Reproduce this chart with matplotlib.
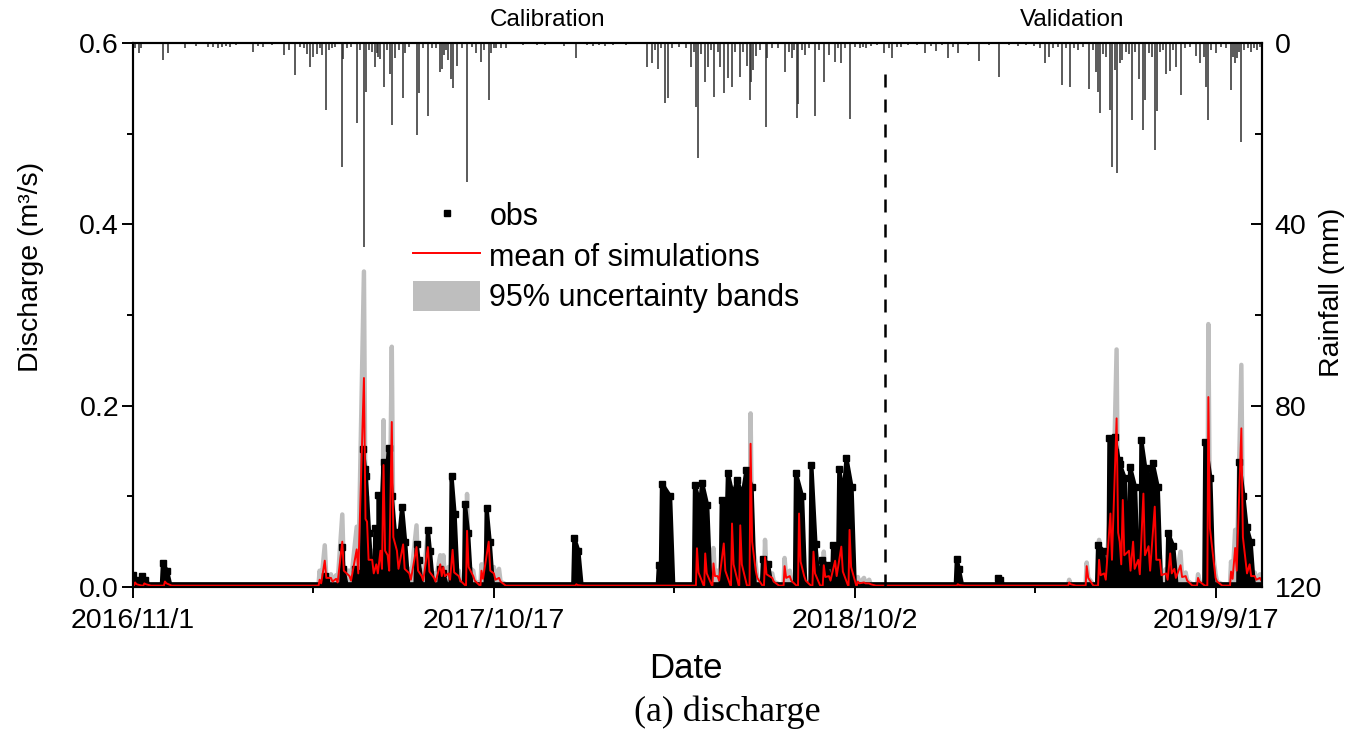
import numpy as np
import matplotlib.pyplot as plt
from matplotlib.lines import Line2D
from matplotlib.patches import Patch

plt.rcParams['font.family'] = ['Liberation Sans', 'DejaVu Sans']

# days counted from 2016/11/1
tick_days = [0, 350, 700, 1050]
tick_labels = ['2016/11/1', '2017/10/17', '2018/10/2', '2019/9/17']
split_day = 729.5

# observed events: start day, end day, top value, value at end (m3/s)
obs_start = [0, 9, 29, 186, 203, 215, 223, 226, 235, 238, 243, 248, 254, 261, 275, 286, 298, 309, 322, 343, 428,
             510, 513, 545, 552, 571, 577, 586, 595, 611, 643, 658, 668, 679, 685, 692,
             799, 839, 936, 947, 952, 957, 967, 978, 983, 989, 1004, 1040, 1073, 1080]
obs_end = [3, 12, 33, 187, 204, 217, 225, 229, 238, 241, 244, 251, 257, 264, 277, 288, 301, 312, 325, 346, 432,
           512, 521, 550, 557, 576, 582, 591, 600, 616, 649, 662, 673, 684, 689, 697,
           801, 841, 941, 952, 956, 962, 972, 982, 986, 994, 1009, 1045, 1077, 1084]
obs_top = [0.013, 0.0125, 0.026, 0.0125, 0.044, 0.02, 0.152, 0.122, 0.065, 0.1015, 0.138, 0.153, 0.061, 0.088,
           0.047, 0.063, 0.02, 0.122, 0.0915, 0.0868, 0.0537,
           0.024, 0.114, 0.1125, 0.115, 0.096, 0.1254, 0.118, 0.129, 0.031, 0.1254, 0.1345, 0.03, 0.046, 0.13, 0.142,
           0.0305, 0.0096, 0.046, 0.164, 0.165, 0.1357, 0.1327, 0.162, 0.1316, 0.137, 0.059, 0.16, 0.138, 0.0665]
obs_tail = [0.008, 0.008, 0.018, 0.008, 0.02, 0.015, 0.13, 0.06, 0.06, 0.08, 0.08, 0.10, 0.04, 0.05,
            0.03, 0.04, 0.015, 0.08, 0.06, 0.05, 0.04,
            0.024, 0.10, 0.09, 0.09, 0.08, 0.10, 0.10, 0.11, 0.025, 0.10, 0.047, 0.024, 0.04, 0.10, 0.11,
            0.02, 0.008, 0.04, 0.149, 0.14, 0.12, 0.11, 0.13, 0.11, 0.11, 0.045, 0.12, 0.10, 0.05]
obs_floor = 0.003

# simulated events: peak day, mean peak, mean shortly after peak, upper 95% band peak
sim_day = [2, 11, 31, 181, 186, 192, 197, 203, 210, 217, 224, 227, 232, 236, 240, 243, 247, 251, 256, 262, 268,
           275, 280, 286, 292, 298, 301, 306, 310, 316, 324, 330, 338, 345, 350, 355, 430,
           547, 555, 563, 567, 573, 581, 589, 599, 604, 613, 620, 632, 637, 646, 651, 660, 670, 675, 681, 687,
           695, 703, 709, 714,
           800, 908, 925, 937, 942, 948, 954, 957, 960, 966, 970, 975, 980, 985, 991, 996, 1002, 1006, 1010,
           1016, 1021, 1033, 1043, 1050, 1065, 1069, 1075, 1079, 1083, 1088, 1093]
sim_peak = [0.005, 0.004, 0.006, 0.008, 0.029, 0.010, 0.009, 0.050, 0.012, 0.0415, 0.2305, 0.072, 0.030, 0.025,
            0.040, 0.1345, 0.035, 0.182, 0.040, 0.047, 0.015, 0.044, 0.012, 0.044, 0.010, 0.025, 0.022, 0.015,
            0.041, 0.012, 0.062, 0.012, 0.018, 0.050, 0.015, 0.010, 0.003,
            0.0427, 0.037, 0.026, 0.012, 0.048, 0.070, 0.068, 0.158, 0.018, 0.033, 0.010, 0.023, 0.012, 0.081,
            0.012, 0.039, 0.024, 0.012, 0.029, 0.0445, 0.063, 0.006, 0.005, 0.004,
            0.003, 0.005, 0.023, 0.030, 0.015, 0.081, 0.186, 0.050, 0.096, 0.040, 0.050, 0.030, 0.103, 0.045,
            0.0886, 0.030, 0.015, 0.037, 0.020, 0.024, 0.012, 0.010, 0.2095, 0.010, 0.017, 0.043, 0.175, 0.030,
            0.025, 0.012, 0.010]
sim_after = [0.003, 0.003, 0.004, 0.004, 0.010, 0.006, 0.005, 0.018, 0.007, 0.015, 0.075, 0.030, 0.015, 0.015,
             0.020, 0.040, 0.018, 0.055, 0.020, 0.020, 0.008, 0.018, 0.007, 0.017, 0.006, 0.012, 0.012, 0.008,
             0.016, 0.007, 0.022, 0.007, 0.009, 0.018, 0.008, 0.006, 0.002,
             0.016, 0.015, 0.012, 0.007, 0.018, 0.025, 0.025, 0.050, 0.010, 0.014, 0.006, 0.010, 0.007, 0.028,
             0.007, 0.015, 0.011, 0.007, 0.012, 0.017, 0.022, 0.004, 0.004, 0.003,
             0.002, 0.003, 0.010, 0.013, 0.008, 0.030, 0.060, 0.025, 0.035, 0.018, 0.020, 0.014, 0.035, 0.018,
             0.030, 0.013, 0.008, 0.015, 0.010, 0.011, 0.007, 0.006, 0.065, 0.006, 0.009, 0.018, 0.055, 0.015,
             0.012, 0.008, 0.007]
sim_upper = [0.008, 0.006, 0.008, 0.018, 0.046, 0.014, 0.013, 0.080, 0.018, 0.0665, 0.348, 0.100, 0.040, 0.035,
             0.055, 0.184, 0.050, 0.265, 0.055, 0.065, 0.020, 0.068, 0.018, 0.060, 0.015, 0.035, 0.035, 0.022,
             0.052, 0.018, 0.1026, 0.018, 0.025, 0.060, 0.022, 0.020, 0.004,
             0.050, 0.045, 0.043, 0.018, 0.056, 0.082, 0.078, 0.1915, 0.025, 0.052, 0.015, 0.032, 0.018, 0.085,
             0.020, 0.045, 0.039, 0.018, 0.035, 0.050, 0.066, 0.011, 0.010, 0.008,
             0.004, 0.008, 0.027, 0.052, 0.020, 0.090, 0.262, 0.060, 0.100, 0.050, 0.055, 0.040, 0.110, 0.050,
             0.095, 0.035, 0.020, 0.045, 0.025, 0.039, 0.016, 0.014, 0.290, 0.014, 0.028, 0.063, 0.245, 0.035,
             0.030, 0.016, 0.014]
sim_floor = 0.0015
upper_floor = 0.003

# daily rainfall (mm)
rain_day = [2, 6, 8, 29, 34, 50, 61, 73, 78, 82, 86, 90, 94, 100, 116, 121, 126, 135, 146, 151, 157, 162, 166,
            169, 172, 175, 178, 181, 183, 187, 190, 193, 196, 203, 204, 208, 211, 217, 220, 224, 226, 229, 232,
            235, 237, 238, 240, 243, 246, 249, 251, 254, 258, 262, 264, 268, 275, 277, 281, 286, 290, 294, 298,
            300, 302, 304, 306, 308, 310, 314, 319, 324, 329, 333, 338, 340, 345, 347, 350, 352, 357, 362, 378,
            392, 400, 418, 430, 440, 446, 452, 458, 466, 478,
            499, 503, 506, 509, 512, 516, 519, 523, 530, 536, 541, 544, 546, 548, 551, 555, 558, 561, 564, 567,
            569, 573, 577, 581, 584, 589, 592, 596, 598, 599, 601, 604, 608, 614, 615, 620, 626, 632, 636, 639,
            641, 644, 645, 649, 652, 656, 661, 665, 670, 675, 681, 684, 687, 691, 695, 700, 705, 708, 711, 716,
            722,
            728, 733, 736, 741, 745, 752, 760, 768, 774, 779, 785, 790, 795, 800, 810, 821, 830, 840, 850, 858,
            866, 874, 880, 885, 888, 892, 897, 901, 905, 909, 913, 917, 921, 927, 931, 934, 936, 938, 941, 944,
            948, 950, 952, 954, 957, 959, 963, 966, 969, 972, 976, 980, 982, 985, 988, 991, 993, 996, 999, 1002,
            1006, 1009, 1012, 1016, 1020, 1025, 1031, 1035, 1039, 1041, 1043, 1046, 1050, 1055, 1060, 1065, 1067,
            1069, 1071, 1073, 1075, 1078, 1081, 1084, 1087, 1090, 1093]
rain_mm = [1.0, 2.2, 1.2, 3.7, 2.2, 1.0, 0.6, 0.8, 0.8, 1.0, 0.8, 0.6, 0.8, 0.5, 1.9, 0.6, 0.8, 0.5, 2.7, 1.6, 7.0,
           0.8, 1.0, 2.5, 5.2, 3.0, 2.5, 1.2, 2.7, 14.8, 1.5, 1.2, 0.8, 27.3, 3.5, 1.2, 0.8, 17.7, 1.5, 45.0, 10.7,
           1.5, 2.0, 5.2, 2.2, 3.0, 3.5, 9.6, 1.5, 6.8, 18.0, 3.2, 1.5, 12.2, 2.2, 0.8, 20.3, 11.0, 1.0, 16.2, 1.0,
           1.2, 6.4, 5.7, 2.6, 1.5, 3.8, 8.0, 10.0, 5.0, 1.0, 30.6, 0.8, 2.2, 4.2, 1.5, 12.6, 2.2, 1.0, 1.2, 1.0,
           1.0, 0.5, 0.5, 0.5, 0.6, 3.4, 0.5, 0.6, 0.5, 0.6, 0.4, 0.5,
           5.4, 4.5, 1.5, 5.8, 1.2, 13.3, 12.2, 1.0, 0.8, 1.0, 5.2, 2.0, 14.1, 25.4, 2.5, 8.5, 5.2, 1.5, 11.8, 2.0,
           5.2, 11.1, 7.8, 9.6, 2.0, 7.4, 2.0, 5.0, 12.6, 8.6, 6.0, 2.9, 1.5, 18.5, 3.4, 1.0, 1.2, 6.3, 2.0, 3.4,
           1.5, 16.6, 13.4, 1.5, 2.6, 1.2, 16.2, 1.5, 8.5, 2.6, 4.2, 1.2, 4.5, 1.0, 16.8, 0.8, 1.0, 0.8, 1.0, 0.6,
           0.5,
           2.3, 1.0, 3.4, 0.8, 0.8, 0.4, 0.5, 2.2, 0.6, 1.8, 0.5, 3.3, 0.8, 2.3, 0.5, 4.0, 0.4, 7.4, 0.5, 0.6,
           0.5, 0.6, 1.0, 4.5, 3.0, 1.0, 0.8, 9.3, 1.2, 9.6, 1.0, 1.5, 0.8, 10.2, 1.5, 6.3, 10.8, 15.5, 2.5, 3.0,
           14.8, 27.3, 6.0, 28.6, 4.5, 3.8, 2.0, 2.5, 17.0, 2.0, 8.0, 19.2, 12.6, 2.2, 3.0, 23.6, 15.0, 2.0, 1.5,
           6.9, 6.2, 1.5, 5.4, 11.5, 1.0, 0.8, 2.9, 4.5, 3.0, 9.6, 17.0, 1.5, 2.2, 0.8, 1.2, 10.4, 3.0, 4.5, 3.4,
           2.0, 21.8, 1.5, 1.2, 2.0, 1.0, 1.5, 0.8]


def knots(starts, ends, tops, tails, floor, lead, lag):
    # turn an event table into line vertices, joining events that are close together
    xs, ys = [], []
    last = -1e9
    for i in range(len(starts)):
        s, e = starts[i], ends[i]
        if s - lead > last:
            xs.append(s - lead)
            ys.append(floor)
        xs += [s, e]
        ys += [tops[i], tails[i]]
        nxt = starts[i + 1] - lead if i + 1 < len(starts) else 1e9
        if e + lag < nxt:
            xs.append(e + lag)
            ys.append(floor)
        last = e + lag
    xs.append(1095)
    ys.append(floor)
    return np.array(xs), np.array(ys)


sim_day = np.array(sim_day, dtype=float)
ox, oy = knots(obs_start, obs_end, obs_top, obs_tail, obs_floor, 1, 3)
sx, sy = knots(sim_day, sim_day + 1.5, sim_peak, sim_after, sim_floor, 1, 5)
ux, uy = knots(sim_day, sim_day + 1.5, sim_upper, sim_after, upper_floor, 1, 5)

fig = plt.figure(figsize=(13.64, 7.39), dpi=100)
ax = fig.add_axes([0.0975, 0.2057, 0.8277, 0.7361])

ax.fill_between(ux, 0, uy, color='#bebebe', lw=0, zorder=1)
ax.plot(ux, uy, color='#bebebe', lw=3.2, zorder=1)
ax.fill_between(ox, 0, oy, color='black', lw=0, zorder=2)
ax.plot(ox, oy, color='black', lw=3.0, zorder=2)
ax.plot(obs_start + obs_end, obs_top + obs_tail, ls='none', marker='s', ms=4.5, color='black', zorder=2)
ax.plot(sx, sy, color='#ff0000', lw=1.4, zorder=3)
ax.axvline(split_day, ymin=0, ymax=0.96, color='black', lw=1.8, ls=(0, (5.2, 4.8)), zorder=4)

ax.set_xlim(0, 1095)
ax.set_ylim(0, 0.6)
ax.set_xticks(tick_days)
ax.set_xticklabels(tick_labels)
ax.set_xticks([175, 525, 875], minor=True)
ax.set_yticks([0, 0.2, 0.4, 0.6])
ax.set_yticklabels(['0.0', '0.2', '0.4', '0.6'])
ax.set_yticks([0.1, 0.3, 0.5], minor=True)
ax.tick_params(axis='both', which='major', direction='out', length=8, width=1.4, labelsize=20.5)
ax.tick_params(axis='both', which='minor', direction='out', length=4, width=1.4)
ax.tick_params(axis='x', which='major', pad=7)
ax.tick_params(axis='y', which='major', pad=2)
for sp in ax.spines.values():
    sp.set_linewidth(1.5)

# rainfall on the right, hanging from the top
ax2 = ax.twinx()
ax2.vlines(rain_day, 0, rain_mm, color='#2e2e2e', lw=1.1)
ax2.set_ylim(120, 0)
ax2.set_yticks([0, 40, 80, 120])
ax2.set_yticks([20, 60, 100], minor=True)
ax2.tick_params(axis='y', which='major', direction='in', length=8, width=1.4, labelsize=20.5, pad=9)
ax2.tick_params(axis='y', which='minor', direction='in', length=5, width=1.4)
for sp in ax2.spines.values():
    sp.set_linewidth(1.5)

fig.text(31 / 1364, 1 - 267 / 739, 'Discharge (m³/s)', rotation=90, ha='center', va='center', fontsize=20.5)
fig.text(1332 / 1364, 1 - 292 / 739, 'Rainfall (mm)', rotation=90, ha='center', va='center', fontsize=20.5)
fig.text(686 / 1364, 1 - 668 / 739, 'Date', ha='center', va='center', fontsize=25)
fig.text(727 / 1364, 1 - 712 / 739, '(a) discharge', ha='center', va='center', fontsize=26,
         family=['Liberation Serif', 'DejaVu Serif'])
fig.text(548 / 1364, 1 - 20 / 739, 'Calibration', ha='center', va='center', fontsize=17.5)
fig.text(1072 / 1364, 1 - 20 / 739, 'Validation', ha='center', va='center', fontsize=17.5)

handles = [Line2D([], [], ls='none', marker='s', ms=4, color='black'),
           Line2D([], [], color='#ff0000', lw=1.4),
           Patch(facecolor='#bebebe', edgecolor='none')]
ax.legend(handles, ['obs', 'mean of simulations', '95% uncertainty bands'], loc='upper left',
          bbox_to_anchor=(413 / 1364, 1 - 200 / 739), bbox_transform=fig.transFigure,
          frameon=False, fontsize=22, handlelength=2.2, handleheight=1.1, handletextpad=0.3,
          labelspacing=0.28, borderpad=0, borderaxespad=0)

fig.savefig('out.png', dpi=100)
